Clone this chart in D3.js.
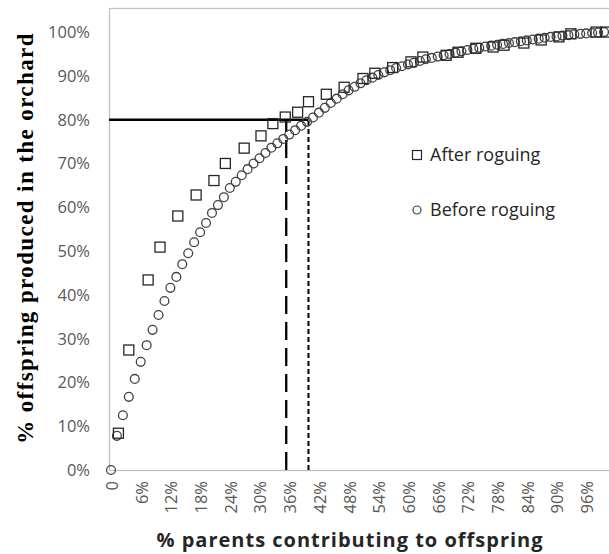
<!DOCTYPE html>
<html>
<head>
<meta charset="utf-8">
<script src="https://cdn.jsdelivr.net/npm/d3@7.9.0/dist/d3.min.js"></script>
<style>
  body { margin: 0; background: #fff; }
  svg { display: block; }
</style>
</head>
<body>
<svg id="chart" width="609" height="554"></svg>
<script>
// Before roguing: % parents (x) vs cumulative % offspring (y)
const beforeX = [0, 1.2, 2.4, 3.6, 4.8, 6.0, 7.2, 8.4, 9.6, 10.8, 12.0, 13.2, 14.4, 15.6, 16.8, 18.0,
  19.2, 20.4, 21.6, 22.8, 24.0, 25.2, 26.4, 27.6, 28.8, 30.0, 31.2, 32.4, 33.6, 34.8, 36.0, 37.2,
  38.4, 39.6, 40.8, 42.0, 43.2, 44.4, 45.6, 46.8, 48.0, 49.2, 50.4, 51.6, 52.8, 54.0, 55.2, 56.4,
  57.6, 58.8, 60.0, 61.2, 62.4, 63.6, 64.8, 66.0, 67.2, 68.4, 69.6, 70.8, 72.0, 73.2, 74.4, 75.6,
  76.8, 78.0, 79.2, 80.4, 81.6, 82.8, 84.0, 85.2, 86.4, 87.6, 88.8, 90.0, 91.2, 92.4, 93.6, 94.8,
  96.0, 97.2, 98.4, 99.6];
const beforeY = [0, 7.8, 12.5, 16.7, 20.8, 24.7, 28.5, 32.0, 35.4, 38.6, 41.6, 44.1, 47.0, 49.5, 52.0, 54.3,
  56.4, 58.7, 60.5, 62.3, 64.4, 65.8, 67.3, 68.7, 70.0, 71.2, 72.4, 73.6, 74.6, 75.6, 76.6, 77.6,
  78.6, 79.5, 80.5, 81.6, 82.7, 83.8, 84.8, 85.8, 86.7, 87.5, 88.3, 89.0, 89.6, 90.2, 90.8, 91.3,
  91.8, 92.2, 92.6, 93.0, 93.4, 93.8, 94.1, 94.4, 94.7, 95.0, 95.3, 95.6, 95.9, 96.2, 96.4, 96.7,
  96.9, 97.1, 97.3, 97.5, 97.7, 97.9, 98.1, 98.3, 98.5, 98.7, 98.9, 99.0, 99.2, 99.3, 99.5, 99.6,
  99.7, 99.8, 99.9, 100];

// After roguing
const afterX = [1.5, 3.6, 7.5, 9.9, 13.5, 17.2, 20.8, 23.1, 26.9, 30.3, 32.7, 35.2, 37.7, 39.9, 43.5,
  47.1, 50.9, 53.3, 56.9, 60.6, 63.0, 67.7, 70.1, 73.7, 77.2, 79.4, 83.4, 86.9, 90.5, 92.9, 98.0, 100];
const afterY = [8.4, 27.4, 43.4, 50.9, 58.0, 62.8, 66.1, 70.0, 73.5, 76.3, 79.1, 80.6, 81.7, 84.1, 85.8,
  87.4, 89.4, 90.6, 91.9, 93.2, 94.3, 94.7, 95.4, 96.3, 96.6, 97.0, 97.5, 98.2, 98.9, 99.6, 100, 100];

const xTicks = [0, 6, 12, 18, 24, 30, 36, 42, 48, 54, 60, 66, 72, 78, 84, 90, 96];
const yTicks = [0, 10, 20, 30, 40, 50, 60, 70, 80, 90, 100];

// reference lines: 80% of offspring reached at these parent %
const targetY = 80;
const afterCut = 35.4;
const beforeCut = 39.9;

const legendItems = ['After roguing', 'Before roguing'];

const svg = d3.select('#chart');
const x = d3.scaleLinear().domain([0, 100]).range([111, 606]);
const y = d3.scaleLinear().domain([0, 105.5]).range([470, 8]);

// plot area frame
svg.append('rect')
  .attr('x', 109.5).attr('y', y(105.5) + 0.5)
  .attr('width', 620).attr('height', y(0) - y(105.5))
  .attr('fill', 'none').attr('stroke', '#c0c0c0').attr('stroke-width', 1.3);

// y tick labels
svg.append('g')
  .selectAll('text')
  .data(yTicks)
  .join('text')
  .attr('x', 90)
  .attr('y', (d) => y(d))
  .attr('dy', '0.36em')
  .attr('text-anchor', 'end')
  .attr('font-family', 'Open Sans, sans-serif')
  .attr('font-size', 16.5)
  .attr('fill', '#595959')
  .text((d) => d + '%');

// x tick labels (rotated)
svg.append('g')
  .selectAll('text')
  .data(xTicks)
  .join('text')
  .attr('transform', (d) => `translate(${x(d) + 1},481) rotate(-90)`)
  .attr('dy', '0.36em')
  .attr('text-anchor', 'end')
  .attr('font-family', 'Open Sans, sans-serif')
  .attr('font-size', 16.5)
  .attr('fill', '#595959')
  .text((d) => (d === 0 ? '0' : d + '%'));

// reference lines
svg.append('line')
  .attr('x1', 109).attr('x2', x(beforeCut))
  .attr('y1', y(targetY)).attr('y2', y(targetY))
  .attr('stroke', '#000').attr('stroke-width', 2.5);
svg.append('line')
  .attr('x1', x(afterCut)).attr('x2', x(afterCut))
  .attr('y1', y(0)).attr('y2', y(targetY))
  .attr('stroke', '#000').attr('stroke-width', 2.3)
  .attr('stroke-dasharray', '18,8');
svg.append('line')
  .attr('x1', x(beforeCut)).attr('x2', x(beforeCut))
  .attr('y1', y(0)).attr('y2', y(targetY))
  .attr('stroke', '#000').attr('stroke-width', 2)
  .attr('stroke-dasharray', '5,3');

// before roguing circles
const before = beforeX.map((v, i) => ({ x: v, y: beforeY[i] }));
svg.append('g')
  .selectAll('circle')
  .data(before)
  .join('circle')
  .attr('cx', (d) => x(d.x))
  .attr('cy', (d) => y(d.y))
  .attr('r', 4.4)
  .attr('fill', 'none')
  .attr('stroke', '#404040')
  .attr('stroke-width', 1.3);

// after roguing squares
const after = afterX.map((v, i) => ({ x: v, y: afterY[i] }));
const sq = 10;
svg.append('g')
  .selectAll('rect')
  .data(after)
  .join('rect')
  .attr('x', (d) => x(d.x) - sq / 2)
  .attr('y', (d) => y(d.y) - sq / 2)
  .attr('width', sq).attr('height', sq)
  .attr('fill', 'none')
  .attr('stroke', '#262626')
  .attr('stroke-width', 1.3);

// legend
const legend = svg.append('g');
legend.append('rect')
  .attr('x', 412.5).attr('y', 150.5).attr('width', 9).attr('height', 9)
  .attr('fill', 'none').attr('stroke', '#262626').attr('stroke-width', 1.2);
legend.append('circle')
  .attr('cx', 417).attr('cy', 210).attr('r', 4)
  .attr('fill', 'none').attr('stroke', '#404040').attr('stroke-width', 1.2);
legend.selectAll('text')
  .data(legendItems)
  .join('text')
  .attr('x', 430)
  .attr('y', (d, i) => (i === 0 ? 155 : 210))
  .attr('dy', '0.36em')
  .attr('font-family', 'Open Sans, sans-serif')
  .attr('font-size', 18)
  .attr('fill', '#262626')
  .text((d) => d);

// axis titles
svg.append('text')
  .attr('x', 350).attr('y', 547)
  .attr('text-anchor', 'middle')
  .attr('font-family', 'Open Sans, sans-serif')
  .attr('font-weight', 'bold')
  .attr('font-size', 20)
  .attr('letter-spacing', 1)
  .attr('fill', '#262626')
  .text('% parents contributing to offspring');

svg.append('text')
  .attr('transform', 'translate(33,238) rotate(-90)')
  .attr('text-anchor', 'middle')
  .attr('font-family', 'Liberation Serif, serif')
  .attr('font-weight', 'bold')
  .attr('font-size', 23)
  .attr('letter-spacing', 1.4)
  .attr('fill', '#000')
  .text('% offspring produced in the orchard');
</script>
</body>
</html>
